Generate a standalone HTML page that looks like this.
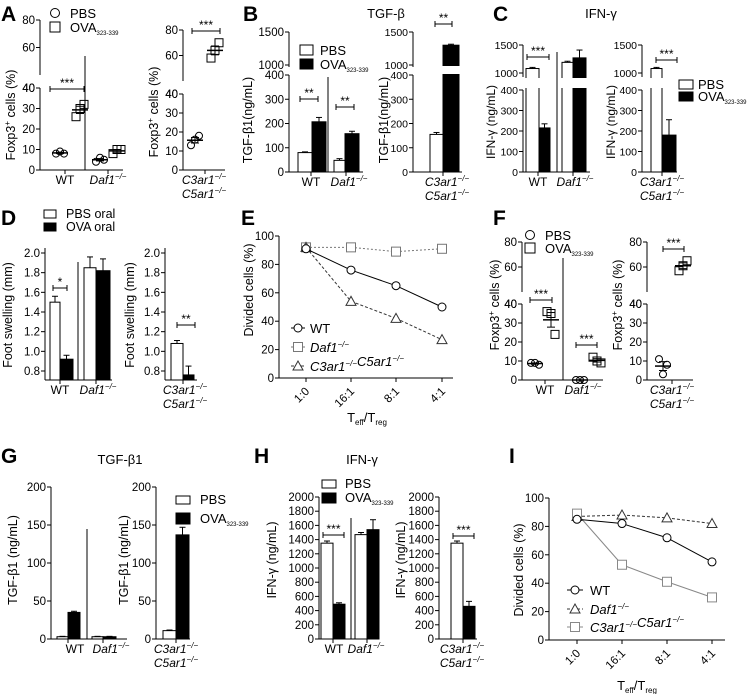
<!DOCTYPE html>
<html><head><meta charset="utf-8"><style>
html,body{margin:0;padding:0;background:#fff}
svg{display:block;font-family:"Liberation Sans",Arial,sans-serif}
</style></head><body>
<svg id="fig" width="747" height="694" viewBox="0 0 747 694" xmlns="http://www.w3.org/2000/svg"></svg>
<script>
// ---------- data ----------
const aWtPbs=[8,9,8], aWtOva=[26,30,32], aDafPbs=[4,6,5], aDafOva=[8,10,10], aC3Pbs=[13,16,18], aC3Ova=[58,64,70];
const bWt=[80,207], bWtErr=[3,18], bDaf=[48,158], bDafErr=[7,10], bC3=[155,1300], bC3Err=[8,15];
const cWt=[1080,215], cWtErr=[20,20], cDaf=[1190,1270], cDafErr=[20,140], cC3=[1080,180], cC3Err=[20,75];
const dWt=[1.50,0.92], dWtErr=[0.06,0.04], dDaf=[1.85,1.82], dDafErr=[0.11,0.12], dC3=[1.08,0.76], dC3Err=[0.03,0.09];
const ratioCats=['1:0','16:1','8:1','4:1'];
const eWt=[91,76,65,50], eDaf=[92,92,89,91], eC3=[92,54,42,27];
const fWtPbs=[9,9,8], fWtOva=[36,35,24], fDafPbs=[0,0,0], fDafOva=[12,10,9], fC3Pbs=[11,3,8], fC3Ova=[57,61,65];
const gWt=[3,35], gWtErr=[0.5,1.5], gDaf=[3,3], gDafErr=[0.5,0.5], gC3=[11,137], gC3Err=[0.8,10];
const hWt=[1350,490], hWtErr=[30,20], hDaf=[1470,1540], hDafErr=[30,140], hC3=[1350,460], hC3Err=[30,70];
const iWt=[85,82,72,55], iDaf=[87,88,86,82], iC3=[89,53,41,30];
const ticksFoxLo=[0,10,20,30,40], ticksFoxUp=[40,60,80];
const ticksTgfLo=[0,100,200,300,400], ticksTgfUp=[1000,1500];
const ticksFoot=[0.8,1.0,1.2,1.4,1.6,1.8,2.0];
const ticksPct=[0,20,40,60,80,100];
const ticksG=[0,50,100,150,200];
const ticksH=[0,200,400,600,800,1000,1200,1400,1600,1800,2000];

// ---------- helpers ----------
const NS='http://www.w3.org/2000/svg';
const svg=document.getElementById('fig');
function el(tag,a,name){
  const e=document.createElementNS(NS,tag);
  for(const k in a) e.setAttribute(k,a[k]);
  
  
  svg.appendChild(e); return e;
}
function T(x,y,html,size,anchor,name,rot,weight){
  const e=el('text',{x:x,y:y,'font-size':size,'text-anchor':anchor||'start',fill:'#000'},name);
  if(weight) e.setAttribute('font-weight',weight);
  e.innerHTML=html;
  if(rot) e.setAttribute('transform','rotate('+rot+' '+x+' '+y+')');
  return e;
}
function L(x1,y1,x2,y2,name,stroke,w,dash){
  const e=el('line',{x1:x1,y1:y1,x2:x2,y2:y2,stroke:stroke||'#000','stroke-width':w||1},name);
  if(dash) e.setAttribute('stroke-dasharray',dash);
  return e;
}
function R(x,y,w,h,fill,name,stroke){
  return el('rect',{x:x,y:y,width:w,height:h,fill:fill,stroke:stroke||'#000','stroke-width':1},name);
}
const KO=n=>'<tspan font-style="italic">'+n+'</tspan><tspan font-style="italic" font-size="8" dy="-5">−/−</tspan><tspan dy="5"></tspan>';
const FOX='Foxp3<tspan font-size="8" dy="-5">+</tspan><tspan dy="5"> cells (%)</tspan>';
const OVA='OVA<tspan font-size="6" dy="3">323-339</tspan>';
const TT='T<tspan font-size="8" dy="3">eff</tspan><tspan dy="-3">/T</tspan><tspan font-size="8" dy="3">reg</tspan>';
function lin(v0,y0,v1,y1){return v=>y0+(v-v0)*(y1-y0)/(v1-v0);}
function broken(loTop,y0,yLoTop,upBot,upTop,yUpBot,yUpTop){
  return v=> v<=loTop ? y0-(v/loTop)*(y0-yLoTop) : yUpBot-(v-upBot)/(upTop-upBot)*(yUpBot-yUpTop);
}
function yAxis(x,ticks,sc,yTop,yBot,name,fmt,fs){
  L(x,yTop,x,yBot,name+'-line');
  ticks.forEach(t=>{const y=sc(t);
    L(x-4,y,x,y,name+'-tick');
    T(x-5,y+4,fmt?fmt(t):String(t),fs||11.5,'end',name+'-label');});
}
function xAxis(x1,x2,y,centers,name){
  L(x1,y,x2,y,name+'-line');
  centers.forEach(c=>L(c,y,c,y+4,name+'-tick'));
}
function bar(x,w,v,err,sc,fill,name,gap,baseY){
  const base=baseY!==undefined?baseY:sc(0);
  const y=sc(v);
  if(err){const ye=sc(v+err); L(x+w/2,y,x+w/2,ye,name+'-error'); L(x+w/2-3,ye,x+w/2+3,ye,name+'-error-cap');}
  R(x,y,w,base-y,fill,name);
  if(gap && y<gap[0]) el('rect',{x:x-1,y:gap[0],width:w+2,height:gap[1]-gap[0],fill:'#fff'},name+'-break');
}
function scatter(xc,vals,sc,shape,name){
  vals.forEach((v,i)=>{const x=xc+(i-1)*4, y=sc(v);
    if(shape==='c') el('circle',{cx:x,cy:y,r:3.5,fill:'none',stroke:'#000','stroke-width':1},name+'-point');
    else el('rect',{x:x-4,y:y-4,width:8,height:8,fill:'none',stroke:'#000','stroke-width':1},name+'-point');});
  const m=vals.reduce((a,b)=>a+b,0)/vals.length;
  const sd=Math.sqrt(vals.reduce((a,b)=>a+(b-m)*(b-m),0)/(vals.length-1));
  const se=sd/Math.sqrt(vals.length);
  L(xc-8,sc(m),xc+8,sc(m),name+'-mean',null,1.5);
  L(xc,sc(m+se),xc,sc(m-se),name+'-sem');
  L(xc-4,sc(m+se),xc+4,sc(m+se),name+'-sem-cap');
  L(xc-4,sc(m-se),xc+4,sc(m-se),name+'-sem-cap');
}
function sig(x1,x2,y,stars,name){
  L(x1,y,x2,y,name+'-bracket'); L(x1,y-3,x1,y+3,name+'-bracket'); L(x2,y-3,x2,y+3,name+'-bracket');
  T((x1+x2)/2,y-2,stars,12,'middle',name+'-stars');
}
function c3Label(cx,y,name){
  T(cx,y,KO('C3ar1'),12,'middle',name+'-c3ar1');
  T(cx,y+14,KO('C5ar1'),12,'middle',name+'-c5ar1');
}
function marker(x,y,shape,name,color){
  const c=color||'#000';
  if(shape==='c') el('circle',{cx:x,cy:y,r:4,fill:'#fff',stroke:c},name);
  else if(shape==='s') el('rect',{x:x-4.5,y:y-4.5,width:9,height:9,fill:'#fff',stroke:c},name);
  else el('polygon',{points:(x)+','+(y-5)+' '+(x-5)+','+(y+4)+' '+(x+5)+','+(y+4),fill:'#fff',stroke:c},name);
}
function series(xs,vals,sc,shape,color,dash,name){
  for(let i=0;i<vals.length-1;i++) L(xs[i],sc(vals[i]),xs[i+1],sc(vals[i+1]),name+'-line',color,1,dash);
  vals.forEach((v,i)=>marker(xs[i],sc(v),shape,name+'-point',color));
}

// ---------- Panel A ----------
T(1,21,'A',21,'start','panel-a-label',null,'bold');
const sAL=broken(40,170,88,40,80,75,20);
yAxis(40,ticksFoxLo,sAL,88,170,'a-left-y-axis'); yAxis(40,ticksFoxUp,sAL,20,75,'a-left-y-axis-upper');
xAxis(40,123,170,[65,108],'a-left-x-axis');
L(85,56,85,170,'a-separator');
scatter(60,aWtPbs,sAL,'c','a-wt-pbs'); scatter(80,aWtOva,sAL,'s','a-wt-ova');
scatter(100,aDafPbs,sAL,'c','a-daf-pbs'); scatter(117,aDafOva,sAL,'s','a-daf-ova');
sig(50,84,89,'***','a-wt-sig');
T(65,184,'WT',12,'middle','a-wt-label'); T(108,184,KO('Daf1'),12,'middle','a-daf-label');
el('circle',{cx:55,cy:13,r:4.5,fill:'none',stroke:'#000'},'a-legend-pbs-marker'); T(70,18,'PBS',13,'start','a-legend-pbs');
el('rect',{x:50,y:22,width:10,height:10,fill:'none',stroke:'#000'},'a-legend-ova-marker'); T(70,32,OVA,13,'start','a-legend-ova');
T(15,115,FOX,12.5,'middle','a-left-y-title',-90);
const sAR=broken(40,170,94,40,80,81,30);
yAxis(183,ticksFoxLo,sAR,94,170,'a-right-y-axis'); yAxis(183,ticksFoxUp,sAR,30,81,'a-right-y-axis-upper');
xAxis(183,225,170,[205],'a-right-x-axis');
scatter(195,aC3Pbs,sAR,'c','a-c3-pbs'); scatter(215,aC3Ova,sAR,'s','a-c3-ova');
sig(192,220,31,'***','a-c3-sig');
c3Label(204,184,'a-right');
T(158,112,FOX,12.5,'middle','a-right-y-title',-90);

// ---------- Panel B ----------
T(243,21,'B',21,'start','panel-b-label',null,'bold');
T(386,18,'TGF-β',13,'middle','b-title');
const sB=broken(400,172,75,1000,1500,65,32);
yAxis(289,ticksTgfLo,sB,75,172,'b-left-y-axis'); yAxis(289,ticksTgfUp,sB,32,67,'b-left-y-axis-upper');
xAxis(289,363,172,[311,346],'b-left-x-axis');
L(328,77,328,172,'b-separator');
bar(298,14,bWt[0],bWtErr[0],sB,'#fff','b-wt-pbs-bar'); bar(312,14,bWt[1],bWtErr[1],sB,'#000','b-wt-ova-bar');
bar(334,11,bDaf[0],bDafErr[0],sB,'#fff','b-daf-pbs-bar'); bar(345,14,bDaf[1],bDafErr[1],sB,'#000','b-daf-ova-bar');
sig(300,318,99,'**','b-wt-sig'); sig(336,354,107,'**','b-daf-sig');
T(311,186,'WT',12,'middle','b-wt-label'); T(349,186,KO('Daf1'),12,'middle','b-daf-label');
R(300,45,13,10,'#fff','b-legend-pbs-swatch'); T(320,55,'PBS',13,'start','b-legend-pbs');
R(300,59,13,10,'#000','b-legend-ova-swatch'); T(320,69,OVA,13,'start','b-legend-ova');
T(252,120,'TGF-β1(ng/mL)',12.5,'middle','b-left-y-title',-90);
yAxis(413,ticksTgfLo,sB,75,172,'b-right-y-axis',null,10.5); yAxis(413,ticksTgfUp,sB,32,67,'b-right-y-axis-upper',null,10.5);
xAxis(413,462,172,[443],'b-right-x-axis');
bar(430,13,bC3[0],bC3Err[0],sB,'#fff','b-c3-pbs-bar'); bar(443,16,bC3[1],bC3Err[1],sB,'#000','b-c3-ova-bar',[66,74]);
sig(435,452,24,'**','b-c3-sig');
c3Label(447,186,'b-right');
T(388,120,'TGF-β1(ng/mL)',12.5,'middle','b-right-y-title',-90);

// ---------- Panel C ----------
T(493,21,'C',21,'start','panel-c-label',null,'bold');
T(601,18,'IFN-γ',13,'middle','c-title');
const sC=broken(400,172,90,1000,1500,73,45);
yAxis(523,ticksTgfLo,sC,90,172,'c-left-y-axis',null,10.5); yAxis(523,ticksTgfUp,sC,45,77,'c-left-y-axis-upper',null,10.5);
xAxis(523,590,172,[538,573],'c-left-x-axis');
L(557,52,557,172,'c-separator');
bar(526,13,cWt[0],cWtErr[0],sC,'#fff','c-wt-pbs-bar',[78,88]); bar(539,11,cWt[1],cWtErr[1],sC,'#000','c-wt-ova-bar');
bar(562,11,cDaf[0],cDafErr[0],sC,'#fff','c-daf-pbs-bar',[78,88]); bar(573,13,cDaf[1],cDafErr[1],sC,'#000','c-daf-ova-bar',[78,88]);
sig(527,549,57,'***','c-wt-sig');
T(538,186,'WT',12,'middle','c-wt-label'); T(575,186,KO('Daf1'),12,'middle','c-daf-label');
T(495,122,'IFN-γ (ng/mL)',12,'middle','c-left-y-title',-90);
yAxis(642,ticksTgfLo,sC,90,172,'c-right-y-axis',null,10.5); yAxis(642,ticksTgfUp,sC,45,77,'c-right-y-axis-upper',null,10.5);
xAxis(642,677,172,[662],'c-right-x-axis');
bar(651,11,cC3[0],cC3Err[0],sC,'#fff','c-c3-pbs-bar',[78,88]); bar(662,14,cC3[1],cC3Err[1],sC,'#000','c-c3-ova-bar');
sig(656,677,60,'***','c-c3-sig');
c3Label(662,186,'c-right');
T(615,122,'IFN-γ (ng/mL)',12,'middle','c-right-y-title',-90);
R(679,80,14,9,'#fff','c-legend-pbs-swatch'); T(698,89,'PBS',13,'start','c-legend-pbs');
R(679,92,14,9,'#000','c-legend-ova-swatch'); T(698,101,OVA,13,'start','c-legend-ova');

// ---------- Panel D ----------
T(1,225,'D',21,'start','panel-d-label',null,'bold');
R(44,210,12,8,'#fff','d-legend-pbs-swatch'); T(66,218,'PBS oral',12.5,'start','d-legend-pbs');
R(44,223,12,8,'#000','d-legend-ova-swatch'); T(66,231,'OVA oral',12.5,'start','d-legend-ova');
const sD=lin(0.8,371,2.0,253);
const dBase=380;
yAxis(45,ticksFoot,sD,248,380,'d-left-y-axis',t=>t.toFixed(1));
xAxis(45,112,380,[60,96],'d-left-x-axis');
L(78,262,78,380,'d-separator');
bar(50,10,dWt[0],dWtErr[0],sD,'#fff','d-wt-pbs-bar',null,dBase); bar(60,13,dWt[1],dWtErr[1],sD,'#000','d-wt-ova-bar',null,dBase);
bar(84,12,dDaf[0],dDafErr[0],sD,'#fff','d-daf-pbs-bar',null,dBase); bar(96,14,dDaf[1],dDafErr[1],sD,'#000','d-daf-ova-bar',null,dBase);
sig(53,67,288,'*','d-wt-sig');
T(60,394,'WT',12,'middle','d-wt-label'); T(98,394,KO('Daf1'),12,'middle','d-daf-label');
T(12,315,'Foot swelling (mm)',12.5,'middle','d-left-y-title',-90);
yAxis(165,ticksFoot,sD,248,380,'d-right-y-axis',t=>t.toFixed(1));
xAxis(165,197,380,[183],'d-right-x-axis');
bar(171,12,dC3[0],dC3Err[0],sD,'#fff','d-c3-pbs-bar',null,dBase); bar(183,11,dC3[1],dC3Err[1],sD,'#000','d-c3-ova-bar',null,dBase);
sig(177,195,325,'**','d-c3-sig');
c3Label(185,394,'d-right');
T(134,315,'Foot swelling (mm)',12.5,'middle','d-right-y-title',-90);

// ---------- Panel E ----------
T(241,225,'E',21,'start','panel-e-label',null,'bold');
const sE=lin(0,378,100,236);
const xE=[306,351,396,442];
yAxis(279,ticksPct,sE,236,378,'e-y-axis');
L(279,378,453,378,'e-x-axis-line');
ratioCats.forEach((c,i)=>{L(xE[i],378,xE[i],382,'e-x-tick'); T(xE[i]+4,392,c,11.5,'end','e-x-tick-label',-45);});
series(xE,eDaf,sE,'s','#777','2,2','e-daf-series');
series(xE,eC3,sE,'t','#333','3,2','e-c3-series');
series(xE,eWt,sE,'c','#000',null,'e-wt-series');
T(367,422,TT,13,'middle','e-x-title');
T(253,290,'Divided cells (%)',12.5,'middle','e-y-title',-90);
L(291,328,305,328,'e-legend-wt-line','#000'); marker(298,328,'c','e-legend-wt-marker'); T(310,333,'WT',13,'start','e-legend-wt');
L(291,347,305,347,'e-legend-daf-line','#777',1,'2,2'); marker(298,347,'s','e-legend-daf-marker','#777'); T(310,352,KO('Daf1'),13,'start','e-legend-daf');
L(291,366,305,366,'e-legend-c3-line','#333',1,'3,2'); marker(298,366,'t','e-legend-c3-marker','#333'); T(310,371,KO('C3ar1')+KO('C5ar1'),13,'start','e-legend-c3');

// ---------- Panel F ----------
T(493,225,'F',21,'start','panel-f-label',null,'bold');
const sF=broken(40,380,304,40,80,292,242);
yAxis(522,ticksFoxLo,sF,304,380,'f-left-y-axis'); yAxis(522,ticksFoxUp,sF,242,292,'f-left-y-axis-upper');
xAxis(522,603,380,[545,582],'f-left-x-axis');
L(563,258,563,380,'f-separator');
scatter(535,fWtPbs,sF,'c','f-wt-pbs'); scatter(551,fWtOva,sF,'s','f-wt-ova');
scatter(580,fDafPbs,sF,'c','f-daf-pbs'); scatter(597,fDafOva,sF,'s','f-daf-ova');
sig(530,552,300,'***','f-wt-sig'); sig(576,597,345,'***','f-daf-sig');
T(545,394,'WT',12,'middle','f-wt-label'); T(583,394,KO('Daf1'),12,'middle','f-daf-label');
el('circle',{cx:530,cy:235,r:4.5,fill:'none',stroke:'#000'},'f-legend-pbs-marker'); T(545,240,'PBS',13,'start','f-legend-pbs');
el('rect',{x:525,y:243,width:10,height:10,fill:'none',stroke:'#000'},'f-legend-ova-marker'); T(545,253,OVA,13,'start','f-legend-ova');
T(499,305,FOX,12.5,'middle','f-left-y-title',-90);
yAxis(647,ticksFoxLo,sF,304,380,'f-right-y-axis'); yAxis(647,ticksFoxUp,sF,242,292,'f-right-y-axis-upper');
xAxis(647,693,380,[672],'f-right-x-axis');
scatter(663,fC3Pbs,sF,'c','f-c3-pbs'); scatter(683,fC3Ova,sF,'s','f-c3-ova');
sig(663,684,249,'***','f-c3-sig');
c3Label(672,394,'f-right');
T(622,305,FOX,12.5,'middle','f-right-y-title',-90);

// ---------- Panel G ----------
T(1,463,'G',21,'start','panel-g-label',null,'bold');
T(120,464,'TGF-β1',13,'middle','g-title');
const sG=lin(0,639,200,487);
yAxis(51,ticksG,sG,487,639,'g-left-y-axis');
xAxis(51,127,639,[68,103],'g-left-x-axis');
L(87,529,87,639,'g-separator');
bar(57,11,gWt[0],gWtErr[0],sG,'#fff','g-wt-pbs-bar'); bar(68,12,gWt[1],gWtErr[1],sG,'#000','g-wt-ova-bar');
bar(92,11,gDaf[0],gDafErr[0],sG,'#fff','g-daf-pbs-bar'); bar(103,13,gDaf[1],gDafErr[1],sG,'#000','g-daf-ova-bar');
T(75,653,'WT',12,'middle','g-wt-label'); T(111,653,KO('Daf1'),12,'middle','g-daf-label');
T(17,560,'TGF-β1 (ng/mL)',12.5,'middle','g-left-y-title',-90);
yAxis(156,ticksG,sG,487,639,'g-right-y-axis');
xAxis(156,190,639,[176],'g-right-x-axis');
bar(163,13,gC3[0],gC3Err[0],sG,'#fff','g-c3-pbs-bar'); bar(176,13,gC3[1],gC3Err[1],sG,'#000','g-c3-ova-bar');
c3Label(176,653,'g-right');
T(128,560,'TGF-β1 (ng/mL)',12.5,'middle','g-right-y-title',-90);
R(176,496,14,8,'#fff','g-legend-pbs-swatch'); T(200,504,'PBS',13,'start','g-legend-pbs');
R(176,513,14,11,'#000','g-legend-ova-swatch'); T(200,523,OVA,13,'start','g-legend-ova');

// ---------- Panel H ----------
T(254,463,'H',21,'start','panel-h-label',null,'bold');
T(362,464,'IFN-γ',13,'middle','h-title');
R(322,480,14,8,'#fff','h-legend-pbs-swatch'); T(345,488,'PBS',13,'start','h-legend-pbs');
R(322,493,14,10,'#000','h-legend-ova-swatch'); T(345,502,OVA,13,'start','h-legend-ova');
const sH=lin(0,639,2000,497);
yAxis(319,ticksH,sH,497,639,'h-left-y-axis');
xAxis(319,379,639,[333,367],'h-left-x-axis');
L(351,518,351,639,'h-separator');
bar(321,12,hWt[0],hWtErr[0],sH,'#fff','h-wt-pbs-bar'); bar(333,12,hWt[1],hWtErr[1],sH,'#000','h-wt-ova-bar');
bar(355,12,hDaf[0],hDafErr[0],sH,'#fff','h-daf-pbs-bar'); bar(367,12,hDaf[1],hDafErr[1],sH,'#000','h-daf-ova-bar');
sig(323,344,535,'***','h-wt-sig');
T(334,653,'WT',12,'middle','h-wt-label'); T(366,653,KO('Daf1'),12,'middle','h-daf-label');
T(276,560,'IFN-γ (ng/mL)',12.5,'middle','h-left-y-title',-90);
yAxis(439,ticksH,sH,497,639,'h-right-y-axis');
xAxis(439,477,639,[463],'h-right-x-axis');
bar(451,12,hC3[0],hC3Err[0],sH,'#fff','h-c3-pbs-bar'); bar(463,12,hC3[1],hC3Err[1],sH,'#000','h-c3-ova-bar');
sig(453,474,536,'***','h-c3-sig');
c3Label(462,653,'h-right');
T(405,560,'IFN-γ (ng/mL)',12.5,'middle','h-right-y-title',-90);

// ---------- Panel I ----------
T(509,463,'I',21,'start','panel-i-label',null,'bold');
const sI=lin(0,640,100,498);
const xI=[577,622,667,712];
yAxis(549,ticksPct,sI,498,640,'i-y-axis');
L(549,640,725,640,'i-x-axis-line');
ratioCats.forEach((c,i)=>{L(xI[i],640,xI[i],644,'i-x-tick'); T(xI[i]+4,654,c,11.5,'end','i-x-tick-label',-45);});
series(xI,iDaf,sI,'t','#333','3,2','i-daf-series');
series(xI,iC3,sI,'s','#888',null,'i-c3-series');
series(xI,iWt,sI,'c','#000',null,'i-wt-series');
T(637,690,TT,13,'middle','i-x-title');
T(523,570,'Divided cells (%)',12.5,'middle','i-y-title',-90);
L(567,590,583,590,'i-legend-wt-line','#000'); marker(575,590,'c','i-legend-wt-marker'); T(590,595,'WT',13,'start','i-legend-wt');
L(567,609,583,609,'i-legend-daf-line','#333',1,'3,2'); marker(575,609,'t','i-legend-daf-marker','#333'); T(590,614,KO('Daf1'),13,'start','i-legend-daf');
L(567,627,583,627,'i-legend-c3-line','#888'); marker(575,627,'s','i-legend-c3-marker','#888'); T(590,632,KO('C3ar1')+KO('C5ar1'),13,'start','i-legend-c3');
</script>
</body></html>
